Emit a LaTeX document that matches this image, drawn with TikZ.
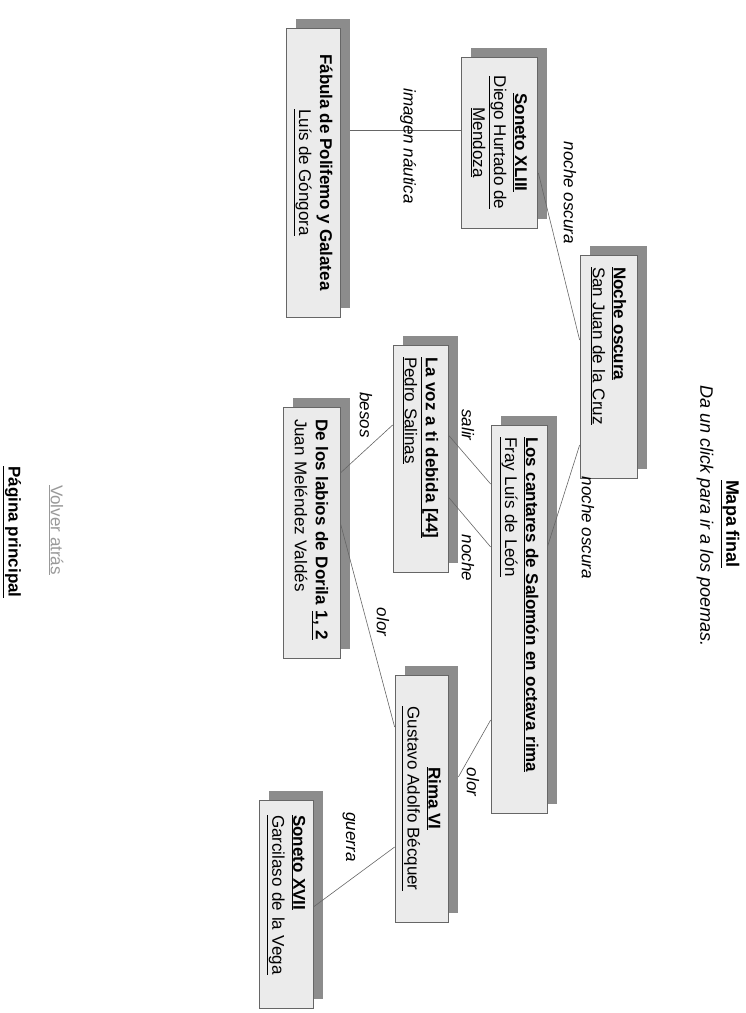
\documentclass[tikz,border=0pt]{standalone}
\usepackage{fontspec}
\setmainfont{Liberation Sans}
\usetikzlibrary{calc,shadows}
\begin{document}
\begin{tikzpicture}[x=1pt,y=1pt,rotate=-90,transform shape,
    poem/.style={draw=black!60,fill=black!8,line width=0.7pt,inner sep=0pt,
      font=\fontsize{17}{21}\selectfont,
      drop shadow={shadow xshift=10pt,shadow yshift=9pt,opacity=1,fill=black!45}},
    link/.style={font=\fontsize{17}{21}\selectfont\itshape,inner sep=0pt}]
      \useasboundingbox (0,0) rectangle (1013,746);
      \draw
        (524,730) node[font=\fontsize{18}{22}\selectfont\bfseries] (title){\underline{Mapa final}}
        (382,705) node[anchor=west,font=\fontsize{18}{22}\selectfont\itshape] (hint){Da un click para ir a los poemas.}
        (172.5,313) node[poem,minimum width=289pt,minimum height=54pt,align=center] (fabula)
          {\textbf{Fábula de Polifemo y Galatea}\\\underline{Luís de Góngora}}
        (142.5,499) node[poem,minimum width=171pt,minimum height=76pt,align=center] (sonetoxliii)
          {\textbf{\underline{Soneto XLIII}}\\\underline{Diego Hurtado de}\\\underline{Mendoza}}
        (366.5,608.5) node[poem,minimum width=223pt,minimum height=57pt,text width=199pt,align=left] (noche)
          {\textbf{\underline{Noche oscura}}\\\underline{San Juan de la Cruz}}
        (619,519) node[poem,minimum width=388pt,minimum height=56pt,text width=364pt,align=left] (cantares)
          {\textbf{\underline{Los cantares de Salomón en octava rima}}\\\underline{Fray Luís de León}}
        (458.5,420.5) node[poem,minimum width=227pt,minimum height=55pt,text width=203pt,align=left] (lavoz)
          {\textbf{\underline{La voz a ti debida [44]}}\\\underline{Pedro Salinas}}
        (532.5,311.5) node[poem,minimum width=251pt,minimum height=57pt,text width=227pt,align=left] (dorila)
          {\textbf{De los labios de Dorila \underline{1, 2}}\\Juan Meléndez Valdés}
        (798.5,421.5) node[poem,minimum width=247pt,minimum height=53pt,align=center] (rima)
          {\textbf{\underline{Rima VI}}\\\underline{Gustavo Adolfo Bécquer}}
        (904,286) node[poem,minimum width=208pt,minimum height=54pt,text width=178pt,align=left] (sonetoxvii)
          {\textbf{\underline{Soneto XVII}}\\\underline{Garcilaso de la Vega}}
        (530,56) node[font=\fontsize{17}{21}\selectfont,text=black!40] (volver){\underline{Volver atrás}}
        (532,12) node[font=\fontsize{17}{21}\selectfont\bfseries] (inicio){\underline{Página principal}};
      \begin{scope}[draw=black!60,line width=0.6pt]
        \draw ($(fabula.north)+(-42.5,10)$) -- ($(sonetoxliii.south)+(-12.5,0)$);
        \draw ($(sonetoxliii.north)+(30.5,1)$) -- ($(noche.south)+(-26.5,0)$);
        \draw ($(noche.south)+(78.5,0)$) -- ($(cantares.north)+(-72,0)$);
        \draw ($(lavoz.north)+(-23.5,0)$) -- ($(cantares.south)+(-135,0)$);
        \draw ($(lavoz.north)+(38.5,0)$) -- ($(cantares.south)+(-72,0)$);
        \draw ($(lavoz.south)+(-33.5,0)$) -- ($(dorila.north)+(-59.5,0)$);
        \draw ($(dorila.north)+(-9.5,0)$) -- ($(rima.south)+(-71.5,0)$);
        \draw ($(cantares.south)+(101,0)$) -- ($(rima.north)+(-21.5,10)$);
        \draw ($(rima.south)+(48.5,0)$) -- ($(sonetoxvii.north)+(3,0)$);
      \end{scope}
      \draw
        (146,408) node[link] (l1){imagen náutica}
        (193,570) node[link] (l2){noche oscura}
        (528,588) node[link] (l3){noche oscura}
        (425,468) node[link] (l4){salir}
        (558,468) node[link] (l5){noche}
        (415,366) node[link] (l6){besos}
        (622,383) node[link] (l7){olor}
        (782,473) node[link] (l8){olor}
        (837,349) node[link] (l9){guerra};
    \end{tikzpicture}
\end{document}
